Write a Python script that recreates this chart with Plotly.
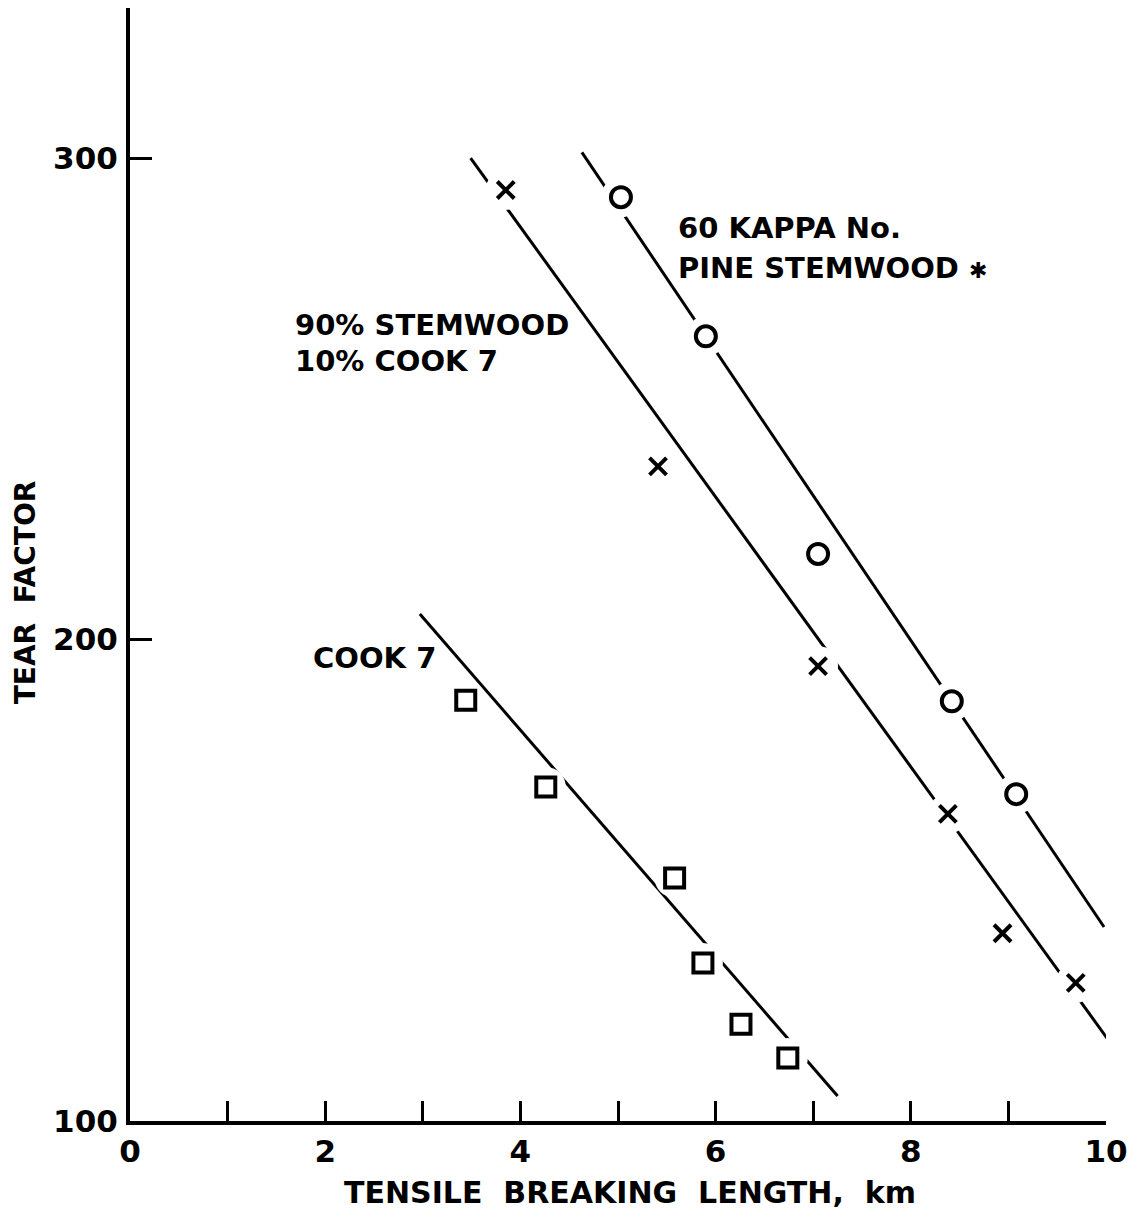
import plotly.graph_objects as go

# ---- data ----
kappa_x = [5.03, 5.90, 7.05, 8.42, 9.08]
kappa_y = [291.9, 263.0, 217.8, 187.2, 167.9]

mix_x = [3.85, 5.41, 7.05, 8.38, 8.94, 9.69]
mix_y = [293.4, 236.0, 194.5, 163.8, 139.0, 128.7]

cook_x = [3.44, 4.26, 5.58, 5.87, 6.26, 6.74]
cook_y = [187.4, 169.4, 150.5, 132.8, 120.1, 113.1]

# fitted lines (end points)
kappa_line_x = [4.63, 9.98]
kappa_line_y = [301.2, 140.3]
mix_line_x = [3.49, 10.10]
mix_line_y = [300.0, 114.7]
cook_line_x = [2.97, 7.25]
cook_line_y = [205.3, 105.2]

x_tick_vals = [0, 1, 2, 3, 4, 5, 6, 7, 8, 9, 10]
x_tick_text = ["0", "", "2", "", "4", "", "6", "", "8", "", "10"]
y_tick_vals = [100, 200, 300]
y_tick_text = ["100", "200", "300"]

FONT = "DejaVu Sans"
INK = "black"

fig = go.Figure()

# lines
for lx, ly in [(kappa_line_x, kappa_line_y), (mix_line_x, mix_line_y), (cook_line_x, cook_line_y)]:
    fig.add_trace(go.Scatter(x=lx, y=ly, mode="lines",
                             line=dict(color=INK, width=3), showlegend=False,
                             hoverinfo="skip"))

# white backing to make gaps in the lines around the markers
for px, py in [(kappa_x, kappa_y), (mix_x, mix_y), (cook_x, cook_y)]:
    fig.add_trace(go.Scatter(x=px, y=py, mode="markers",
                             marker=dict(color="white", size=40, symbol="circle",
                                         line=dict(width=0)),
                             showlegend=False, hoverinfo="skip"))

# markers
fig.add_trace(go.Scatter(x=kappa_x, y=kappa_y, mode="markers", name="60 KAPPA No.",
                         marker=dict(symbol="circle-open", size=20, color=INK,
                                     line=dict(width=4, color=INK)),
                         showlegend=False))
fig.add_trace(go.Scatter(x=mix_x, y=mix_y, mode="markers", name="90% STEMWOOD",
                         marker=dict(symbol="x-thin-open", size=17, color=INK,
                                     line=dict(width=4, color=INK)),
                         showlegend=False))
fig.add_trace(go.Scatter(x=cook_x, y=cook_y, mode="markers", name="COOK 7",
                         marker=dict(symbol="square-open", size=19, color=INK,
                                     line=dict(width=4, color=INK)),
                         showlegend=False))

tf = dict(family=FONT, size=29, color=INK, weight="bold")
af = dict(family=FONT, size=31, color=INK, weight="bold")
xt = dict(family=FONT, size=30, color=INK, weight="bold")
yt = dict(family=FONT, size=30, color=INK, weight="bold")
ann = [
    dict(x=5.59, y=285.5, text="60 KAPPA No.", xanchor="left", yanchor="middle"),
    dict(x=5.59, y=277.2, text="PINE STEMWOOD <span style='font-size:22px'>✱</span>",
         xanchor="left", yanchor="middle"),
    dict(x=1.67, y=265.3, text="90% STEMWOOD", xanchor="left", yanchor="middle"),
    dict(x=1.67, y=257.8, text="10% COOK 7", xanchor="left", yanchor="middle"),
    dict(x=1.85, y=196.2, text="COOK 7", xanchor="left", yanchor="middle"),
]
annotations = [dict(a, xref="x", yref="y", showarrow=False, font=tf) for a in ann]
annotations.append(dict(xref="paper", yref="paper", x=0.512, y=-0.064,
                        text="TENSILE  BREAKING  LENGTH,  km", showarrow=False,
                        xanchor="center", yanchor="middle", font=xt))
annotations.append(dict(xref="paper", yref="paper", x=-0.1076, y=0.475,
                        text="TEAR  FACTOR", showarrow=False, textangle=-90,
                        xanchor="center", yanchor="middle", font=dict(yt, size=28)))

fig.update_layout(
    width=1134, height=1209,
    margin=dict(l=122, r=36, t=0, b=96),
    paper_bgcolor="white", plot_bgcolor="white",
    annotations=annotations,
    xaxis=dict(range=[0, 10], showgrid=False, zeroline=False,
               showline=True, linecolor=INK, linewidth=4,
               ticks="inside", ticklen=20, tickwidth=3, tickcolor=INK,
               tickvals=x_tick_vals, ticktext=x_tick_text,
               tickfont=af, ticklabelstandoff=0),
    yaxis=dict(range=[100, 331.2], showgrid=False, zeroline=False,
               showline=True, linecolor=INK, linewidth=4,
               ticks="inside", ticklen=22, tickwidth=3, tickcolor=INK,
               tickvals=y_tick_vals, ticktext=y_tick_text,
               tickfont=af, ticklabelstandoff=2),
)

fig.write_html("out.html")
